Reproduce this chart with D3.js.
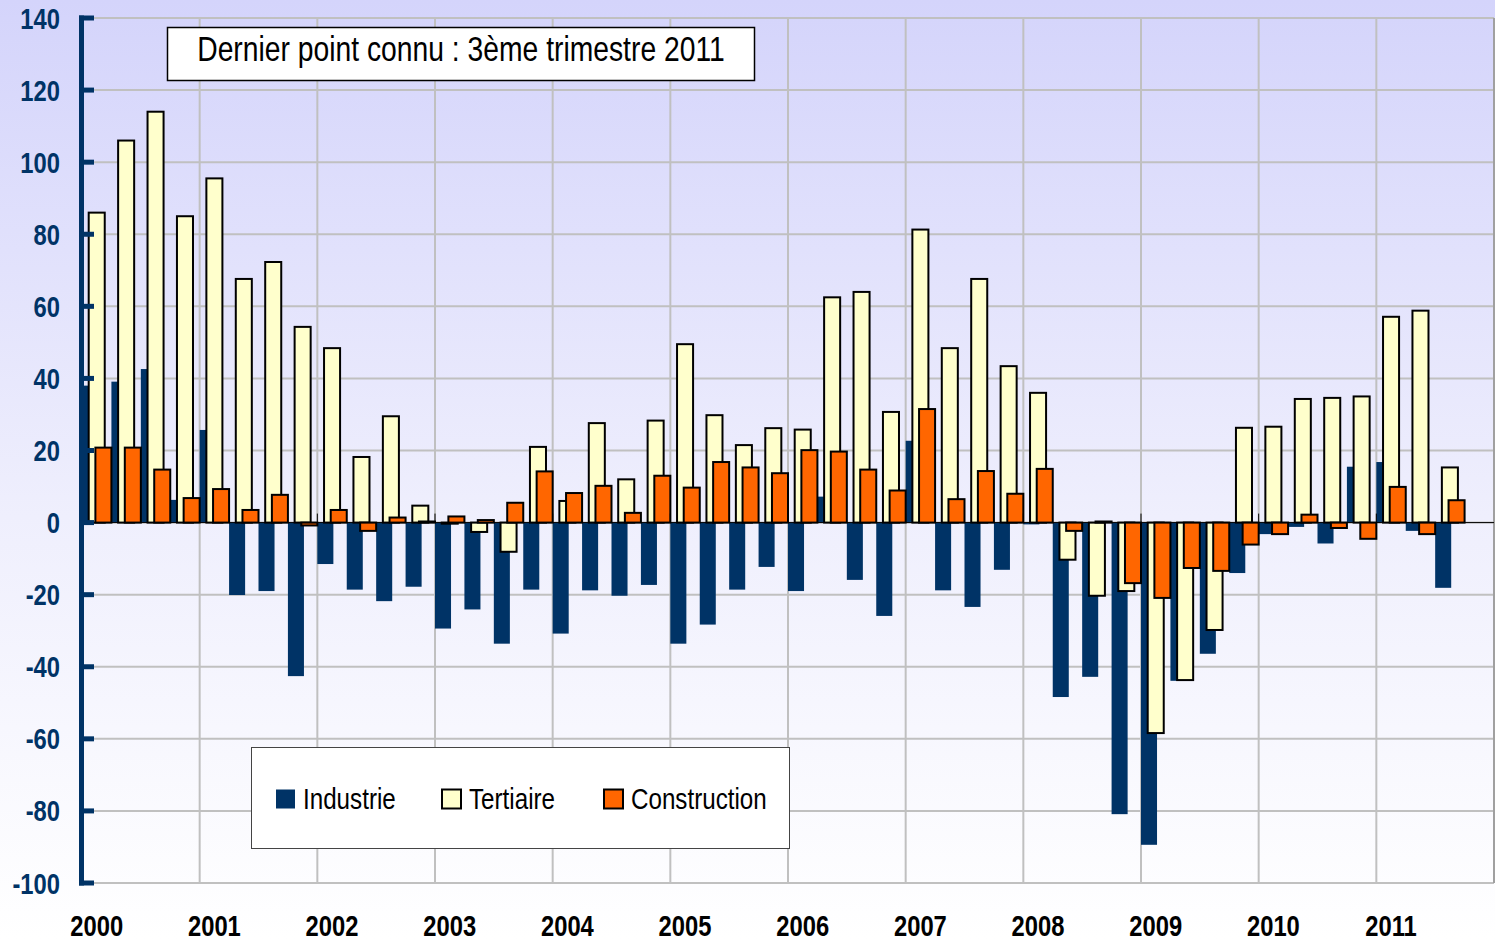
<!DOCTYPE html>
<html>
<head>
<meta charset="utf-8">
<script src="https://cdn.jsdelivr.net/npm/d3@7"></script>
<style>
  html, body { margin: 0; padding: 0; background: #fff; }
  svg { display: block; }
  text { font-family: "Liberation Sans", Arial, sans-serif; }
</style>
</head>
<body>
<svg width="1495" height="939"></svg>
<script>
// trimestres 2000T1 .. 2011T4 (le dernier est vide)
const years = d3.range(2000, 2012);
const quarters = [];
years.forEach(y => [1, 2, 3, 4].forEach(q => quarters.push(y + "T" + q)));

const yTicks = [-100, -80, -60, -40, -20, 0, 20, 40, 60, 80, 100, 120, 140];

const industrie = [38, 39.1, 42.6, 6.3, 25.7, -20.1, -19, -42.6, -11.5, -18.6, -21.8, -17.8,
    -29.4, -24.1, -33.6, -18.6, -30.8, -18.8, -20.3, -17.3, -33.6, -28.3, -18.6, -12.3,
    -19, 7.2, -15.9, -25.9, 22.7, -18.8, -23.4, -13.1, -0.5, -48.4, -42.8, -80.9,
    -89.4, -43.9, -36.4, -14, -3.2, -1.2, -5.8, 15.5, 16.8, -2.3, -18.1];

const tertiaire = [86, 106, 114, 85, 95.5, 67.6, 72.3, 54.3, 48.4, 18.2, 29.5, 4.7,
    -0.3, -2.6, -8.1, 21, 6, 27.6, 12, 28.3, 49.5, 29.8, 21.5, 26.2,
    25.8, 62.5, 64, 30.7, 81.3, 48.4, 67.6, 43.4, 36, -10.3, -20.3, -19,
    -58.4, -43.7, -29.8, 26.3, 26.6, 34.3, 34.6, 35, 57.1, 58.8, 15.3];

const construction = [20.8, 20.8, 14.7, 6.8, 9.3, 3.5, 7.7, -0.8, 3.5, -2.3, 1.4, 0.3,
    1.7, 0.7, 5.5, 14.2, 8.2, 10.2, 2.7, 13, 9.7, 16.8, 15.3, 13.7,
    20.1, 19.7, 14.7, 8.9, 31.5, 6.5, 14.3, 8, 14.9, -2.3, 0.3, -16.8,
    -20.9, -12.6, -13.4, -6.1, -3.2, 2.2, -1.5, -4.5, 9.9, -3.2, 6.2];

const seriesNames = ["Industrie", "Tertiaire", "Construction"];
const titleText = "Dernier point connu : 3ème trimestre 2011";

const colors = { Industrie: "#003366", Tertiaire: "#ffffcc", Construction: "#ff6600" };

const svg = d3.select("svg");
const area = { left: 82, right: 1494, top: 18, bottom: 883 };

// pas de police étroite installée : on comprime le texte horizontalement
function narrowText(parent, x, y, str, size, opts = {}) {
    return parent.append("text")
        .attr("transform", `translate(${x}, ${y}) scale(0.82, 1)`)
        .attr("text-anchor", opts.anchor || "start")
        .attr("font-size", size)
        .attr("font-weight", opts.weight || "normal")
        .attr("fill", opts.fill || "#000")
        .text(str);
}

// fond dégradé
const defs = svg.append("defs");
const grad = defs.append("linearGradient")
    .attr("id", "bg").attr("x1", 0).attr("y1", 0).attr("x2", 0).attr("y2", 1);
grad.append("stop").attr("offset", "0%").attr("stop-color", "#d4d4fb");
grad.append("stop").attr("offset", "55%").attr("stop-color", "#efeffd");
grad.append("stop").attr("offset", "100%").attr("stop-color", "#ffffff");
svg.append("rect").attr("width", 1495).attr("height", 939).attr("fill", "url(#bg)");

const scX = d3.scaleBand().domain(quarters).range([area.left, area.right]).padding(0);
const scY = d3.scaleLinear().domain([-100, 140]).range([area.bottom, area.top]);
const bw = scX.bandwidth();

// grille
svg.append("g").selectAll("line").data(yTicks).enter().append("line")
    .attr("x1", area.left).attr("x2", area.right)
    .attr("y1", d => scY(d)).attr("y2", d => scY(d))
    .attr("stroke", "#c0c0c0").attr("stroke-width", 2);

svg.append("g").selectAll("line").data(years.slice(1)).enter().append("line")
    .attr("x1", d => scX(d + "T1")).attr("x2", d => scX(d + "T1"))
    .attr("y1", area.top).attr("y2", area.bottom)
    .attr("stroke", "#c0c0c0").attr("stroke-width", 2);

svg.append("line")
    .attr("x1", area.right).attr("x2", area.right)
    .attr("y1", area.top).attr("y2", area.bottom)
    .attr("stroke", "#a0a0a0").attr("stroke-width", 2);

// barres
const barW = bw * 0.545;
const offsets = { Industrie: 0, Tertiaire: bw * 0.228, Construction: bw * 0.455 };
const values = { Industrie: industrie, Tertiaire: tertiaire, Construction: construction };

seriesNames.forEach(name => {
    const g = svg.append("g");
    g.selectAll("rect").data(values[name]).enter().append("rect")
        .attr("x", (d, i) => scX(quarters[i]) + offsets[name])
        .attr("y", d => scY(Math.max(0, d)))
        .attr("width", barW)
        .attr("height", d => Math.abs(scY(d) - scY(0)))
        .attr("fill", colors[name])
        .attr("stroke", name === "Industrie" ? "none" : "#000")
        .attr("stroke-width", 2);
});

// ligne du zéro et graduations
svg.append("line")
    .attr("x1", area.left).attr("x2", area.right)
    .attr("y1", scY(0)).attr("y2", scY(0))
    .attr("stroke", "#000").attr("stroke-width", 1);

svg.append("g").selectAll("line").data(years).enter().append("line")
    .attr("x1", d => scX(d + "T1")).attr("x2", d => scX(d + "T1"))
    .attr("y1", scY(0) - 9).attr("y2", scY(0))
    .attr("stroke", "#000").attr("stroke-width", 1);

// axe Y
const axisG = svg.append("g");
axisG.append("line")
    .attr("x1", area.left - 0.5).attr("x2", area.left - 0.5)
    .attr("y1", area.top - 2.5).attr("y2", area.bottom + 2.5)
    .attr("stroke", "#003366").attr("stroke-width", 5);
axisG.selectAll(".tick").data(yTicks).enter().append("line")
    .attr("x1", area.left - 3).attr("x2", area.left + 12)
    .attr("y1", d => scY(d)).attr("y2", d => scY(d))
    .attr("stroke", "#003366").attr("stroke-width", 5);

const yLab = svg.append("g");
yTicks.forEach(d => {
    narrowText(yLab, 60, scY(d) + 10.5, d, 29, { anchor: "end", weight: "bold", fill: "#003366" });
});

// axe X : années
const xLab = svg.append("g");
years.forEach(d => {
    narrowText(xLab, scX(d + "T1") + bw / 2, 936, d, 29, { anchor: "middle", weight: "bold" });
});

// cadre titre
svg.append("rect")
    .attr("x", 167.5).attr("y", 27.5).attr("width", 587).attr("height", 53)
    .attr("fill", "#fff").attr("stroke", "#000").attr("stroke-width", 1.5);
narrowText(svg, 461, 61, titleText, 34.5, { anchor: "middle" });

// légende
const leg = svg.append("g");
leg.append("rect")
    .attr("x", 251.5).attr("y", 747.5).attr("width", 538).attr("height", 101)
    .attr("fill", "#fff").attr("stroke", "#444").attr("stroke-width", 1);

const legX = [276, 442, 604];
seriesNames.forEach((name, i) => {
    leg.append("rect")
        .attr("x", legX[i]).attr("y", 789.5).attr("width", 19).attr("height", 19)
        .attr("fill", colors[name])
        .attr("stroke", name === "Industrie" ? "none" : "#000")
        .attr("stroke-width", 2);
    narrowText(leg, legX[i] + 27, 809, name, 29.5);
});
</script>
</body>
</html>
